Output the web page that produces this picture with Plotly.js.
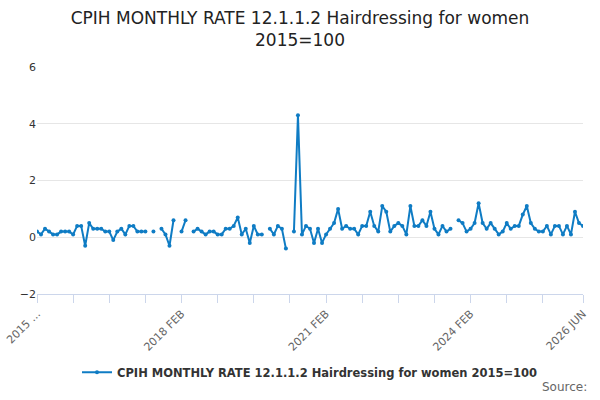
<!DOCTYPE html>
<html>
<head>
<meta charset="utf-8">
<script src="https://cdn.plot.ly/plotly-3.0.1.min.js"></script>
<style>body{margin:0}#chart{width:600px;height:400px}</style>
</head>
<body>
<div id="chart"></div>
<script>
// monthly rate, Feb 2015 .. Jun 2026 (null = not published)
var values = [
  0.2, 0.1, 0.3, 0.2, 0.1, 0.1, 0.2, 0.2, 0.2, 0.1, 0.4, 0.4,
  -0.3, 0.5, 0.3, 0.3, 0.3, 0.2, 0.2, -0.1, 0.2, 0.3, 0.1, 0.4,
  0.4, 0.2, 0.2, 0.2, null, 0.2, null, 0.3, 0.1, -0.3, 0.6, null,
  0.2, 0.6, null, 0.2, 0.3, 0.2, 0.1, 0.2, 0.2, 0.1, 0.1, 0.3,
  0.3, 0.4, 0.7, 0.1, 0.3, -0.2, 0.4, 0.1, 0.1, null, 0.3, 0.1,
  0.4, 0.3, -0.4, null, 0.2, 4.3, 0.1, 0.4, 0.3, -0.2, 0.3, -0.2,
  0.1, 0.3, 0.5, 1.0, 0.3, 0.4, 0.3, 0.3, 0.1, 0.4, 0.4, 0.9,
  0.4, 0.2, 1.1, 0.9, 0.2, 0.4, 0.5, 0.4, 0.1, 1.1, 0.4, 0.4,
  0.6, 0.4, 0.9, 0.3, 0.1, 0.4, 0.2, 0.3, null, 0.6, 0.5, 0.2,
  0.3, 0.5, 1.2, 0.5, 0.3, 0.5, 0.3, 0.1, 0.2, 0.5, 0.3, 0.4,
  0.4, 0.8, 1.1, 0.5, 0.3, 0.2, 0.2, 0.4, 0.1, 0.4, 0.4, 0.1,
  0.4, 0.1, 0.9, 0.5, 0.4
];
var tickVals = [0, 9, 18, 27, 36, 45, 54, 63, 72, 81, 90, 99, 108, 117, 126, 136];
var tickText = ['2015 ...', '', '', '', '2018 FEB', '', '', '', '2021 FEB', '', '', '', '2024 FEB', '', '', '2026 JUN'];

var idx = values.map(function (v, i) { return i; });

var trace = {
  x: idx, y: values, type: 'scatter', mode: 'lines+markers',
  name: 'CPIH MONTHLY RATE 12.1.1.2 Hairdressing for women 2015=100',
  line: { color: '#0f7cc4', width: 2 },
  marker: { color: '#0f7cc4', size: 4 },
  connectgaps: false
};

var layout = {
  width: 600, height: 400,
  font: { family: 'DejaVu Sans', color: '#333' },
  title: { text: 'CPIH MONTHLY RATE 12.1.1.2 Hairdressing for women<br>2015=100',
           font: { size: 17, color: '#222' }, x: 0.5, y: 0.94, yanchor: 'top', automargin: false },
  margin: { l: 37, r: 17, t: 67, b: 106 },
  plot_bgcolor: '#fff', paper_bgcolor: '#fff',
  xaxis: {
    range: [0, 136], tickvals: tickVals, ticktext: tickText, tickangle: -45,
    showgrid: false, zeroline: false, showline: true, linecolor: '#ccd6eb',
    ticks: 'outside', tickcolor: '#ccd6eb', ticklen: 8, automargin: false,
    tickfont: { size: 11, color: '#666' }
  },
  yaxis: {
    range: [-2, 6], tickvals: [-2, 0, 2, 4, 6], gridcolor: '#e6e6e6', automargin: false,
    zeroline: false, tickfont: { size: 11, color: '#333' }, ticks: '', ticklen: 0
  },
  showlegend: true,
  legend: { orientation: 'h', x: 0.5, xanchor: 'center', y: -0.345, yanchor: 'middle',
            font: { size: 11.5, color: '#333', weight: 'bold' } },
  annotations: [{ text: 'Source:', xref: 'paper', yref: 'paper', x: 1.011, y: -0.41,
                  xanchor: 'right', yanchor: 'middle', showarrow: false,
                  font: { size: 12, color: '#666' } }]
};

Plotly.newPlot('chart', [trace], layout, { displayModeBar: false, staticPlot: true });
</script>
</body>
</html>
